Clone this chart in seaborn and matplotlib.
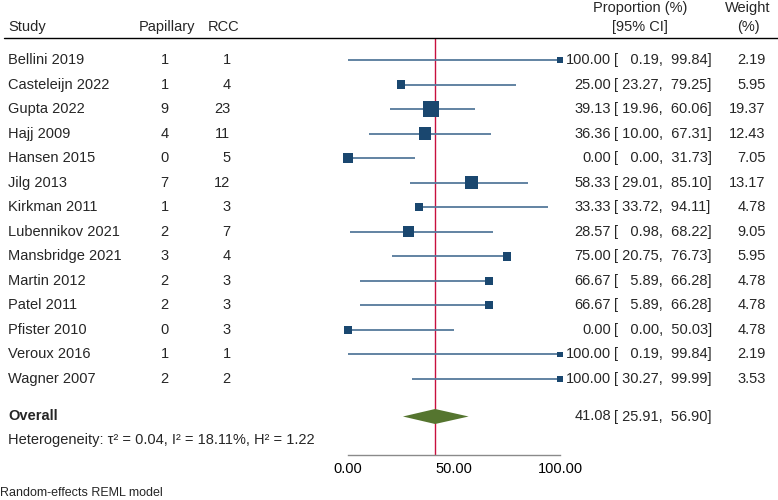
import matplotlib
matplotlib.use("Agg")
import matplotlib.pyplot as plt
from matplotlib.lines import Line2D
import seaborn as sns
import pandas as pd
import numpy as np

# ---------------- data ----------------
studies = ["Bellini 2019", "Casteleijn 2022", "Gupta 2022", "Hajj 2009", "Hansen 2015",
           "Jilg 2013", "Kirkman 2011", "Lubennikov 2021", "Mansbridge 2021", "Martin 2012",
           "Patel 2011", "Pfister 2010", "Veroux 2016", "Wagner 2007"]
papillary = [1, 1, 9, 4, 0, 7, 1, 2, 3, 2, 2, 0, 1, 2]
rcc = [1, 4, 23, 11, 5, 12, 3, 7, 4, 3, 3, 3, 1, 2]
proportion = [100.00, 25.00, 39.13, 36.36, 0.00, 58.33, 33.33, 28.57, 75.00, 66.67, 66.67, 0.00, 100.00, 100.00]
ci_low = [0.19, 23.27, 19.96, 10.00, 0.00, 29.01, 33.72, 0.98, 20.75, 5.89, 5.89, 0.00, 0.19, 30.27]
ci_high = [99.84, 79.25, 60.06, 67.31, 31.73, 85.10, 94.11, 68.22, 76.73, 66.28, 66.28, 50.03, 99.84, 99.99]
weight = [2.19, 5.95, 19.37, 12.43, 7.05, 13.17, 4.78, 9.05, 5.95, 4.78, 4.78, 4.78, 2.19, 3.53]
overall_est = 41.08
overall_low = 25.91
overall_high = 56.90
heterogeneity = "Heterogeneity: \u03c4\u00b2 = 0.04, I\u00b2 = 18.11%, H\u00b2 = 1.22"
model_note = "Random-effects REML model"
xticks = [0, 50, 100]
xticklabels = ["0.00", "50.00", "100.00"]

# ---------------- style ----------------
sns.set_style("white")
plt.rcParams["font.family"] = ["Liberation Sans", "DejaVu Sans"]
FS = 10.5

NAVY = "#1a476f"
CI_COL = "#55799b"
RED = "#c8103e"
GREEN = "#55752f"
AXIS_GRAY = "#8a8a8a"

W, H = 778, 500
ROW = 24.54          # pixel spacing between rows
Y0 = 60              # pixel y of first row
X0, X100 = 348, 560  # pixel x of 0 and 100
AX_TOP, AX_BOT = 38, 454.7


def ypx(p):
    return (p - Y0) / ROW


def xpx(p):
    return (p - X0) / (X100 - X0) * 100


fig = plt.figure(figsize=(W / 100, H / 100), dpi=100)
ax = fig.add_axes([X0 / W, (H - AX_BOT) / H, (X100 - X0) / W, (AX_BOT - AX_TOP) / H])
ax.set_xlim(0, 100)
ax.set_ylim(ypx(AX_BOT), ypx(AX_TOP))
ax.set_facecolor("none")

rows = np.arange(len(studies))
df = pd.DataFrame({"study": studies, "row": rows, "prop": proportion,
                   "lo": ci_low, "hi": ci_high, "weight": weight})

# CI lines
ax.hlines(df["row"], df["lo"], df["hi"], color=CI_COL, lw=1.3, zorder=2, clip_on=False)

# reference line at overall estimate
ax.axvline(overall_est, color=RED, lw=1.0, zorder=1.5)

# squares sized by weight (area proportional to weight)
smax_side_pt = 16 * 72 / 100
s_per_w = smax_side_pt ** 2 / max(weight)
sns.scatterplot(data=df, x="prop", y="row", size="weight",
                sizes=(min(weight) * s_per_w, max(weight) * s_per_w),
                marker="s", color=NAVY, linewidth=0, legend=False, ax=ax,
                zorder=3, clip_on=False)

# overall diamond
yo = ypx(416.5)
hd = 7.5 / ROW
ax.fill([overall_low, overall_est, overall_high, overall_est],
        [yo, yo - hd, yo, yo + hd], color=GREEN, lw=0, zorder=3, clip_on=False)

# axis styling
for s in ["top", "left", "right"]:
    ax.spines[s].set_visible(False)
ax.spines["bottom"].set_color(AXIS_GRAY)
ax.spines["bottom"].set_linewidth(1.0)
ax.set_yticks([])
ax.set_xticks(xticks)
ax.set_xticklabels(xticklabels)
ax.tick_params(axis="x", direction="out", length=3.2, width=1.0, color=AXIS_GRAY,
               labelsize=FS, pad=2, labelcolor="black")
ax.set_xlabel("")
ax.set_ylabel("")

# header line
fig.add_artist(Line2D([4 / W, 1.0], [(H - AX_TOP) / H] * 2, color="black", lw=1.0))

# headers
hy = ypx(27)
ax.text(xpx(8), hy, "Study", ha="left", va="center", fontsize=FS)
ax.text(xpx(167), hy, "Papillary", ha="center", va="center", fontsize=FS)
ax.text(xpx(224), hy, "RCC", ha="center", va="center", fontsize=FS)
ax.text(xpx(640), ypx(8), "Proportion (%)", ha="center", va="center", fontsize=FS)
ax.text(xpx(640), hy, "[95% CI]", ha="center", va="center", fontsize=FS)
ax.text(xpx(748), ypx(8), "Weight", ha="center", va="center", fontsize=FS)
ax.text(xpx(748), hy, "(%)", ha="center", va="center", fontsize=FS)


def pad(v):
    # two normal spaces equal one digit width in Arial-metric fonts
    s = f"{v:.2f}"
    return "  " * (5 - len(s)) + s


def ci_text(y, est, lo, hi, **kw):
    ax.text(xpx(611), y, f"{est:.2f}", ha="right", va="center", fontsize=FS, **kw)
    ax.text(xpx(613.5), y, f"[ {pad(lo)},  {pad(hi)}]", ha="left", va="center",
            fontsize=FS, **kw)


for i, r in df.iterrows():
    y = r["row"]
    ax.text(xpx(8), y, r["study"], ha="left", va="center", fontsize=FS)
    ax.text(xpx(168.5), y, str(papillary[i]), ha="right", va="center", fontsize=FS)
    ax.text(xpx(230.5), y, str(rcc[i]), ha="right", va="center", fontsize=FS)
    ci_text(y, r["prop"], r["lo"], r["hi"])
    ax.text(xpx(765.5), y, f"{r['weight']:.2f}", ha="right", va="center", fontsize=FS)

# overall row
ax.text(xpx(8), yo, "Overall", ha="left", va="center", fontsize=FS, fontweight="bold")
ci_text(yo, overall_est, overall_low, overall_high)

ax.text(xpx(8), ypx(440), heterogeneity, ha="left", va="center", fontsize=FS)
ax.text(xpx(0.5), ypx(493), model_note, ha="left", va="center", fontsize=9.0)

fig.savefig("out.png", dpi=100, facecolor="white")
